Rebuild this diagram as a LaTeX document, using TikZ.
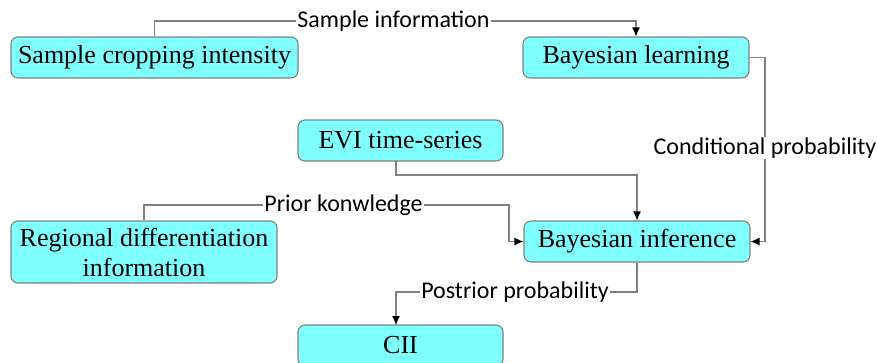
\documentclass[tikz,border=0pt]{standalone}
\usepackage{fontspec}
\setmainfont{Liberation Serif}
\newfontfamily\labfont{Carlito}
\usetikzlibrary{arrows.meta}
\definecolor{boxfill}{RGB}{128,255,255}
\definecolor{linegray}{RGB}{128,128,128}
\tikzset{
  box/.style={draw=linegray, line width=1.1pt, fill=boxfill, rounded corners=7pt,
    inner sep=0pt, anchor=center, align=center, text=black,
    font=\fontsize{26}{30}\selectfont},
  lab/.style={fill=white, inner sep=1pt, text=black, font=\labfont\fontsize{24}{26}\selectfont},
  conn/.style={draw=linegray, line width=1.2pt},
  arr/.style={conn, -{Latex[length=9pt,width=8pt,color=black]}}
}
\begin{document}
\begin{tikzpicture}[x=1pt,y=-1pt]
\useasboundingbox (0,0) rectangle (877,362);
\clip (0,0) rectangle (877,362);
\fill[white] (0,0) rectangle (877,362);
% boxes
\node[box, minimum width=287pt, minimum height=41pt] (sci) at (154.5,57.5) {Sample cropping intensity};
\node[box, minimum width=226pt, minimum height=41pt] (bl) at (636,57.5) {Bayesian learning};
\node[box, minimum width=205pt, minimum height=41pt] (evi) at (400.5,140.5) {EVI time-series};
\node[box, minimum width=226pt, minimum height=41pt] (bi) at (637,241.5) {Bayesian inference};
\node[box, minimum width=266pt, minimum height=62pt] (rdi) at (144,252) {Regional differentiation\\information};
\node[box, minimum width=205pt, minimum height=41pt] (cii) at (400.5,345.5) {CII};
% labels
\node[lab] (l1) at (393.5,21) {Sample information};
\node[lab] (l3) at (343.5,205) {Prior konwledge};
\node[lab] (l4) at (515,292) {Postrior probability};
\coordinate (c2) at (765,148);
\coordinate (pk) at (509,206);
\coordinate (ev) at (396,161);
\coordinate (ci) at (396,325);
% connectors
\draw[conn] (sci.north) |- (l1.west);
\draw[arr] (l1.east) -| (bl.north);
\draw[arr] (bl.east) -| (c2) |- (bi.east);
\node[lab] (l2) at (c2) {Conditional probability};
\draw[arr] (ev) -- ++(0,14) -| (bi.north);
\draw[conn] (rdi.north) |- (l3.west);
\draw[arr] (l3.east) -| (pk) |- (bi.west);
\draw[conn] (bi.south) |- (l4.east);
\draw[arr] (l4.west) -| (ci);
\end{tikzpicture}
\end{document}
